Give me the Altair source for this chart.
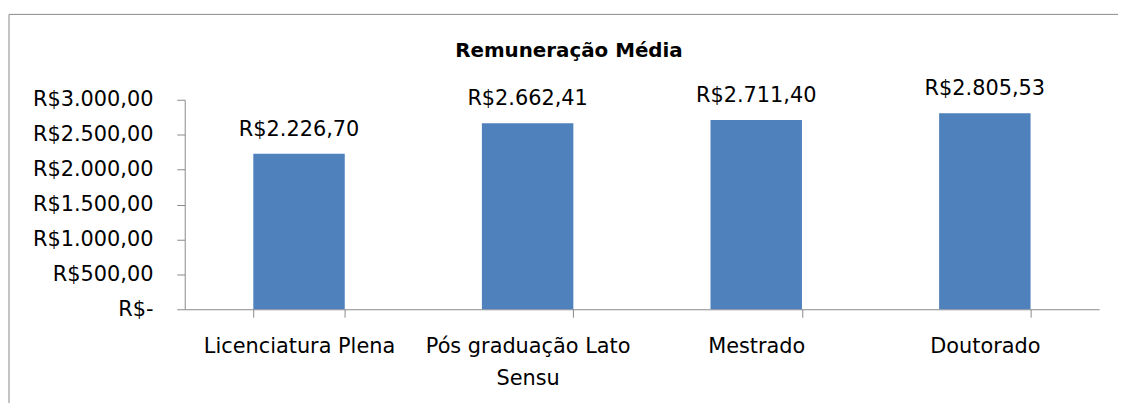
import altair as alt
import pandas as pd

categories = ["Licenciatura Plena", "Pós graduação Lato Sensu", "Mestrado", "Doutorado"]
values = [2226.70, 2662.41, 2711.40, 2805.53]
y_ticks = [0, 500, 1000, 1500, 2000, 2500, 3000]
title_text = "Remuneração Média"

df = pd.DataFrame({"cat": categories, "val": values})

W, H = 921, 211
FONT = "DejaVu Sans"
AX = "#898989"
BAR = "#4F81BD"


def brl(v):
    return ("'R$' + replace(replace(replace(format(" + v +
            ", ',.2f'), ',', '#'), '.', ','), '#', '.')")


x_scale = alt.Scale(paddingInner=0.6, paddingOuter=0.3)
y_scale = alt.Scale(domain=[0, 3000], nice=False)

x_axis = alt.Axis(
    labelAngle=0, tickBand="extent", tickSize=8, tickColor=AX, domainColor=AX,
    labelFont=FONT, labelFontSize=21, labelColor="black", labelLimit=0,
    labelBaseline="alphabetic", labelPadding=36, labelLineHeight=32,
    labelExpr="datum.value == 'Pós graduação Lato Sensu' ? ['Pós graduação Lato', 'Sensu'] : datum.value",
    grid=False, labelOverlap=False,
)
y_axis = alt.Axis(
    values=y_ticks, tickSize=8, tickColor=AX, domainColor=AX, grid=False,
    labelOverlap=False,
    labelFont=FONT, labelFontSize=21, labelColor="black", labelPadding=24,
    labelExpr="datum.value == 0 ? 'R$-' : " + brl("datum.value"),
)


def xe():
    return alt.X("cat:N", sort=categories, title=None, scale=x_scale, axis=x_axis)


def ye():
    return alt.Y("val:Q", title=None, scale=y_scale, axis=y_axis)


bars = alt.Chart(df).mark_bar(color=BAR).encode(x=xe(), y=ye())

labels = alt.Chart(df).transform_calculate(
    lbl=brl("datum.val")
).mark_text(
    baseline="alphabetic", dy=-18, font=FONT, fontSize=21, color="black"
).encode(x=xe(), y=ye(), text="lbl:N")

one = alt.Data(values=[{"t": title_text}])
frame_v = alt.Chart(one).mark_rule(color=AX, strokeWidth=1).encode(
    x=alt.value(-177), y=alt.value(-86), y2=alt.value(400)
)
frame_h = alt.Chart(one).mark_rule(color=AX, strokeWidth=1).encode(
    x=alt.value(-177), x2=alt.value(1000), y=alt.value(-86)
)
title = alt.Chart(one).mark_text(
    font=FONT, fontSize=20, fontWeight="bold", color="black",
    align="center", baseline="middle"
).encode(x=alt.value(387), y=alt.value(-49), text="t:N")

chart = alt.layer(frame_v, frame_h, bars, labels, title).properties(
    width=W, height=H,
    padding={"left": 178, "top": 91, "right": 19, "bottom": 93},
    autosize=alt.AutoSizeParams(type="none"),
    background="white",
).configure_view(strokeWidth=0, stroke="transparent")

chart.save("out.html", embed_options={"renderer": "svg", "actions": False})
